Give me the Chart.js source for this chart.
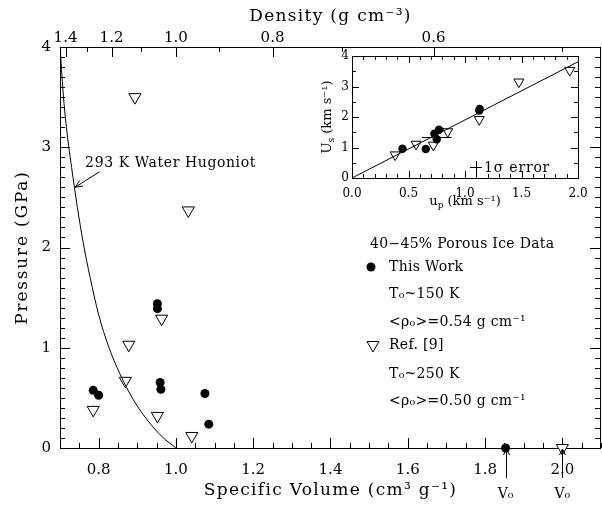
<!DOCTYPE html>
<html lang="en">
<head>
<meta charset="UTF-8">
<title>Porous Ice Hugoniot</title>
<style>
  body { margin: 0; background: #fff; }
  #wrap { position: relative; width: 602px; height: 506px; }
  #main { position: absolute; left: 0; top: 0; }
  #inset { position: absolute; left: 300px; top: 40px; }
</style>
</head>
<body>
<div id="wrap">
  <canvas id="main" width="602" height="506"></canvas>
  <canvas id="inset" width="290" height="180"></canvas>
</div>
<script src="https://cdn.jsdelivr.net/npm/chart.js"></script>
<script>
// main panel: specific volume (cm3/g) vs pressure (GPa)
const thisWorkV = [0.786, 0.800, 0.952, 0.952, 0.959, 0.961, 1.075, 1.085, 1.853];
const thisWorkP = [0.575, 0.526, 1.44, 1.39, 0.654, 0.585, 0.544, 0.238, 0];
const ref9V = [0.894, 1.032, 0.963, 0.878, 0.869, 0.786, 0.952, 1.041, 2.0];
const ref9P = [3.50, 2.37, 1.29, 1.03, 0.67, 0.38, 0.32, 0.12, 0];
const hugV = [0.700, 0.708, 0.718, 0.730, 0.745, 0.760, 0.778, 0.800, 0.825, 0.855, 0.890, 0.930, 0.965, 1.000];
const hugP = [4.02, 3.55, 3.15, 2.80, 2.40, 2.05, 1.70, 1.33, 1.02, 0.74, 0.48, 0.26, 0.11, 0.00];
const volumeTicks = [0.8, 1.0, 1.2, 1.4, 1.6, 1.8, 2.0];
const densityTicks = [1.4, 1.2, 1.0, 0.8, 0.6];
const densityMinor = [1.3, 1.1, 0.9, 0.7, 0.5];
const pressureTicks = [0, 1, 2, 3, 4];
const v0Marks = [1.853, 2.0];

// inset: particle velocity vs shock velocity (km/s)
const insetWorkUp = [0.447, 0.653, 0.729, 0.750, 0.770, 1.126, 1.130];
const insetWorkUs = [0.96, 0.95, 1.45, 1.27, 1.58, 2.21, 2.26];
const insetRefUp = [0.382, 0.567, 0.720, 0.847, 1.126, 1.477, 1.927];
const insetRefUs = [0.76, 1.11, 1.08, 1.52, 1.92, 3.15, 3.53];
const fitUp = [0, 2.0];
const fitUs = [0, 3.81];
const errUp = 0.75, errUs = 1.33, errDx = 0.13, errDy = 0.06;

Chart.defaults.font.family = 'DejaVu Serif';
Chart.defaults.color = '#000';

function pts(xs, ys) {
    return xs.map((v, i) => ({ x: v, y: ys[i] }));
}

function crisp(v) {
    return Math.round(v) + 0.5;
}

// text with letter spacing (the original uses a wide stroke font)
function spaced(ctx, text, x, y, spacing) {
    ctx.letterSpacing = spacing + 'px';
    ctx.fillText(text, x, y);
    ctx.letterSpacing = '0px';
}

// fixed axis sizes, no extra room for overhanging labels
function fixH(h) {
    return s => { s.height = h; s.paddingLeft = 0; s.paddingRight = 0; };
}
function fixW(w) {
    return s => { s.width = w; s.paddingTop = 0; s.paddingBottom = 0; };
}

const mainFrame = {
    id: 'mainFrame',
    beforeDatasetsDraw(chart) {
        const { ctx, chartArea: a, scales: { x, y } } = chart;
        ctx.save();
        ctx.strokeStyle = '#000';
        ctx.lineWidth = 1;
        ctx.strokeRect(crisp(a.left), crisp(a.top), Math.round(a.right - a.left) - 1, Math.round(a.bottom - a.top));
        ctx.beginPath();
        // bottom ticks every 0.05
        for (let i = 0; i <= 28; i++) {
            const v = 0.7 + i * 0.05;
            const px = crisp(x.getPixelForValue(v));
            const major = Math.abs(v * 5 - Math.round(v * 5)) < 1e-6;
            ctx.moveTo(px, a.bottom);
            ctx.lineTo(px, a.bottom - (major ? 10 : 5));
        }
        // top density ticks
        densityTicks.forEach(d => {
            const px = crisp(x.getPixelForValue(1 / d));
            ctx.moveTo(px, a.top);
            ctx.lineTo(px, a.top + 10);
        });
        densityMinor.forEach(d => {
            const px = crisp(x.getPixelForValue(1 / d));
            ctx.moveTo(px, a.top);
            ctx.lineTo(px, a.top + 5);
        });
        // left and right ticks every 0.1
        for (let i = 0; i <= 40; i++) {
            const py = crisp(y.getPixelForValue(i / 10));
            const len = i % 10 === 0 ? 10 : 5;
            ctx.moveTo(a.left, py);
            ctx.lineTo(a.left + len, py);
            ctx.moveTo(a.right - 1, py);
            ctx.lineTo(a.right - 1 - len, py);
        }
        ctx.stroke();
        ctx.restore();
    },
    afterDraw(chart) {
        const { ctx, chartArea: a, scales: { x, y } } = chart;
        ctx.save();
        ctx.fillStyle = '#000';
        ctx.strokeStyle = '#000';
        ctx.lineWidth = 1;

        // axis titles
        ctx.font = '17px "DejaVu Serif"';
        ctx.textAlign = 'center';
        ctx.textBaseline = 'middle';
        spaced(ctx, 'Specific Volume (cm³ g⁻¹)', (a.left + a.right) / 2, 491, 1.3);
        spaced(ctx, 'Density (g cm⁻³)', (a.left + a.right) / 2, 17, 1.3);
        ctx.save();
        ctx.translate(23, (a.top + a.bottom) / 2);
        ctx.rotate(-Math.PI / 2);
        spaced(ctx, 'Pressure (GPa)', 0, 0, 1.8);
        ctx.restore();

        // V0 arrows under the axis
        ctx.beginPath();
        v0Marks.forEach(v => {
            const px = crisp(x.getPixelForValue(v));
            ctx.moveTo(px, a.bottom + 30);
            ctx.lineTo(px, a.bottom + 1);
            ctx.moveTo(px - 3, a.bottom + 7);
            ctx.lineTo(px, a.bottom + 1);
            ctx.lineTo(px + 3, a.bottom + 7);
        });
        ctx.stroke();
        ctx.font = '14px "DejaVu Serif"';
        v0Marks.forEach(v => {
            ctx.fillText('V₀', x.getPixelForValue(v), 494);
        });

        // water Hugoniot label + arrow
        ctx.textAlign = 'left';
        ctx.font = '14px "DejaVu Serif"';
        spaced(ctx, '293 K Water Hugoniot', x.getPixelForValue(0.765), y.getPixelForValue(2.84), 0.6);
        const tx = x.getPixelForValue(0.802), ty = y.getPixelForValue(2.755);
        const hx = x.getPixelForValue(0.739), hy = y.getPixelForValue(2.60);
        const ang = Math.atan2(hy - ty, hx - tx);
        ctx.beginPath();
        ctx.moveTo(tx, ty);
        ctx.lineTo(hx, hy);
        ctx.moveTo(hx - 8 * Math.cos(ang - 0.4), hy - 8 * Math.sin(ang - 0.4));
        ctx.lineTo(hx, hy);
        ctx.lineTo(hx - 8 * Math.cos(ang + 0.4), hy - 8 * Math.sin(ang + 0.4));
        ctx.stroke();

        // legend block
        spaced(ctx, '40−45% Porous Ice Data', 370, 244, 0.3);
        spaced(ctx, 'This Work', 389, 267, 0.3);
        spaced(ctx, 'T₀~150 K', 389, 294, 0.3);
        spaced(ctx, '<ρ₀>=0.54 g cm⁻¹', 389, 322, 0.3);
        spaced(ctx, 'Ref. [9]', 389, 345, 0.3);
        spaced(ctx, 'T₀~250 K', 389, 374, 0.3);
        spaced(ctx, '<ρ₀>=0.50 g cm⁻¹', 389, 401, 0.3);
        ctx.beginPath();
        ctx.arc(371, 267, 4.5, 0, Math.PI * 2);
        ctx.fill();
        ctx.beginPath();
        ctx.moveTo(373 - 6, 345 - 3.5);
        ctx.lineTo(373 + 6, 345 - 3.5);
        ctx.lineTo(373, 345 + 7);
        ctx.closePath();
        ctx.stroke();
        ctx.restore();
    }
};

new Chart(document.getElementById('main'), {
    type: 'scatter',
    data: {
        datasets: [
            {
                label: '293 K Water Hugoniot',
                data: pts(hugV, hugP),
                showLine: true,
                cubicInterpolationMode: 'monotone',
                borderColor: '#000',
                borderWidth: 1,
                pointRadius: 0
            },
            {
                label: 'This Work',
                data: pts(thisWorkV, thisWorkP),
                pointStyle: 'circle',
                pointRadius: 4.5,
                backgroundColor: '#000',
                borderColor: '#000',
                borderWidth: 0,
                clip: false
            },
            {
                label: 'Ref. [9]',
                data: pts(ref9V, ref9P),
                pointStyle: 'triangle',
                rotation: 180,
                pointRadius: 7,
                backgroundColor: '#fff',
                borderColor: '#000',
                borderWidth: 1,
                clip: false
            }
        ]
    },
    options: {
        responsive: false,
        animation: false,
        layout: { autoPadding: false, padding: { left: 0, right: 1, top: 0, bottom: 0 } },
        plugins: { legend: { display: false }, tooltip: { enabled: false } },
        scales: {
            x: {
                type: 'linear',
                position: 'bottom',
                min: 0.7,
                max: 2.1,
                grid: { display: false, drawTicks: false },
                border: { display: false },
                afterBuildTicks: s => { s.ticks = volumeTicks.map(v => ({ value: v })); },
                afterFit: fixH(58),
                ticks: {
                    autoSkip: false,
                    maxRotation: 0,
                    padding: 13,
                    font: { size: 15 },
                    callback: v => v.toFixed(1)
                }
            },
            x2: {
                type: 'linear',
                position: 'top',
                min: 0.7,
                max: 2.1,
                grid: { display: false, drawTicks: false },
                border: { display: false },
                afterBuildTicks: s => { s.ticks = densityTicks.map(d => ({ value: 1 / d })); },
                afterFit: fixH(47),
                ticks: {
                    autoSkip: false,
                    maxRotation: 0,
                    padding: 0,
                    font: { size: 15 },
                    callback: (v, i) => densityTicks[i].toFixed(1)
                }
            },
            y: {
                type: 'linear',
                position: 'left',
                min: 0,
                max: 4,
                grid: { display: false, drawTicks: false },
                border: { display: false },
                afterBuildTicks: s => { s.ticks = pressureTicks.map(v => ({ value: v })); },
                afterFit: fixW(60),
                ticks: { padding: 9, font: { size: 15 } }
            }
        }
    },
    plugins: [mainFrame]
});

// inset panel
function subText(ctx, base, sub, rest, x, y) {
    ctx.font = '13px "DejaVu Serif"';
    const w1 = ctx.measureText(base).width;
    const w3 = ctx.measureText(rest).width;
    ctx.font = '9px "DejaVu Serif"';
    const w2 = ctx.measureText(sub).width;
    let cx = x - (w1 + w2 + w3) / 2;
    ctx.textAlign = 'left';
    ctx.font = '13px "DejaVu Serif"';
    ctx.fillText(base, cx, y);
    cx += w1;
    ctx.font = '9px "DejaVu Serif"';
    ctx.fillText(sub, cx, y + 4);
    cx += w2;
    ctx.font = '13px "DejaVu Serif"';
    ctx.fillText(rest, cx, y);
}

const insetFrame = {
    id: 'insetFrame',
    beforeDatasetsDraw(chart) {
        const { ctx, chartArea: a, scales: { x, y } } = chart;
        ctx.save();
        ctx.fillStyle = '#fff';
        ctx.fillRect(a.left, a.top, a.right - a.left, a.bottom - a.top);
        ctx.strokeStyle = '#000';
        ctx.lineWidth = 1;
        ctx.strokeRect(crisp(a.left), crisp(a.top), Math.round(a.right - a.left), Math.round(a.bottom - a.top));
        ctx.beginPath();
        for (let i = 0; i <= 20; i++) {
            const px = crisp(x.getPixelForValue(i / 10));
            const len = i % 5 === 0 ? 7 : 4;
            ctx.moveTo(px, a.bottom);
            ctx.lineTo(px, a.bottom - len);
            ctx.moveTo(px, a.top);
            ctx.lineTo(px, a.top + len);
        }
        for (let i = 0; i <= 8; i++) {
            const py = crisp(y.getPixelForValue(i / 2));
            const len = i % 2 === 0 ? 7 : 4;
            ctx.moveTo(a.left, py);
            ctx.lineTo(a.left + len, py);
            ctx.moveTo(a.right, py);
            ctx.lineTo(a.right - len, py);
        }
        ctx.stroke();
        ctx.restore();
    },
    afterDraw(chart) {
        const { ctx, chartArea: a, scales: { x, y } } = chart;
        ctx.save();
        ctx.fillStyle = '#000';
        ctx.strokeStyle = '#000';
        ctx.lineWidth = 1;
        ctx.textBaseline = 'middle';
        subText(ctx, 'u', 'p', ' (km s⁻¹)', (a.left + a.right) / 2, 162);
        ctx.save();
        ctx.translate(28, (a.top + a.bottom) / 2);
        ctx.rotate(-Math.PI / 2);
        subText(ctx, 'U', 's', ' (km s⁻¹)', 0, 0);
        ctx.restore();

        // 1 sigma error cross
        const ex = x.getPixelForValue(errUp), ey = y.getPixelForValue(errUs);
        ctx.beginPath();
        ctx.moveTo(x.getPixelForValue(errUp - errDx), crisp(ey));
        ctx.lineTo(x.getPixelForValue(errUp + errDx), crisp(ey));
        ctx.moveTo(crisp(ex), y.getPixelForValue(errUs - errDy));
        ctx.lineTo(crisp(ex), y.getPixelForValue(errUs + errDy));
        // legend cross
        ctx.moveTo(170, 127.5);
        ctx.lineTo(182, 127.5);
        ctx.moveTo(176.5, 121);
        ctx.lineTo(176.5, 134);
        ctx.stroke();
        ctx.font = '14px "DejaVu Serif"';
        ctx.textAlign = 'left';
        spaced(ctx, '1σ error', 184, 128, 0.8);
        ctx.restore();
    }
};

new Chart(document.getElementById('inset'), {
    type: 'scatter',
    data: {
        datasets: [
            {
                label: 'fit',
                data: pts(fitUp, fitUs),
                showLine: true,
                borderColor: '#000',
                borderWidth: 1,
                pointRadius: 0
            },
            {
                label: 'This Work',
                data: pts(insetWorkUp, insetWorkUs),
                pointStyle: 'circle',
                pointRadius: 4.2,
                backgroundColor: '#000',
                borderWidth: 0,
                clip: false
            },
            {
                label: 'Ref. [9]',
                data: pts(insetRefUp, insetRefUs),
                pointStyle: 'triangle',
                rotation: 180,
                pointRadius: 5.8,
                backgroundColor: '#fff',
                borderColor: '#000',
                borderWidth: 1,
                clip: false
            }
        ]
    },
    options: {
        responsive: false,
        animation: false,
        layout: { autoPadding: false, padding: { left: 0, right: 12, top: 16, bottom: 0 } },
        plugins: { legend: { display: false }, tooltip: { enabled: false } },
        scales: {
            x: {
                type: 'linear',
                min: 0,
                max: 2,
                grid: { display: false, drawTicks: false },
                border: { display: false },
                afterFit: fixH(42),
                ticks: { stepSize: 0.5, padding: 9, maxRotation: 0, font: { size: 12 }, callback: v => v.toFixed(1) }
            },
            y: {
                type: 'linear',
                min: 0,
                max: 4,
                grid: { display: false, drawTicks: false },
                border: { display: false },
                afterFit: fixW(52),
                ticks: { stepSize: 1, padding: 3, font: { size: 12 } }
            }
        }
    },
    plugins: [insetFrame]
});
</script>
</body>
</html>
